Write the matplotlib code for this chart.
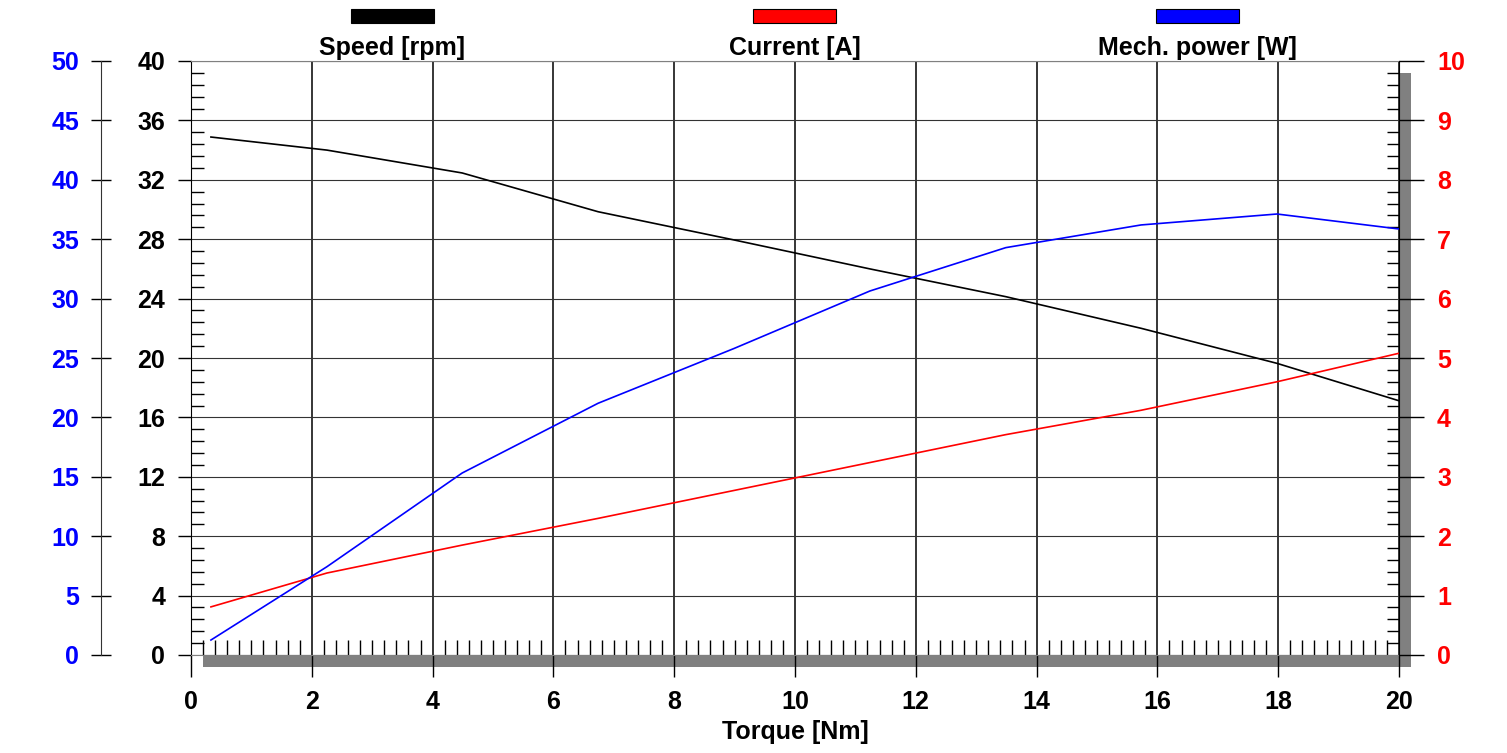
import matplotlib
matplotlib.use('Agg')
import matplotlib.pyplot as plt
import matplotlib.patches as mpatches
from matplotlib.ticker import MultipleLocator
import numpy as np

plt.rcParams['font.family'] = ['Liberation Sans', 'DejaVu Sans']
plt.rcParams['font.weight'] = 'bold'
plt.rcParams['font.size'] = 18

# ── data ─────────────────────────────────────────────────────
TORQUE  = [0.33, 2.25, 4.49, 6.74, 8.99, 11.24, 13.49, 15.73, 17.98, 20.0]
SPEED   = [34.88, 34.0, 32.46, 29.85, 27.95, 26.0, 24.13, 22.0, 19.64, 17.12]
CURRENT = [0.81, 1.38, 1.85, 2.30, 2.77, 3.24, 3.71, 4.12, 4.60, 5.08]
POWER   = [1.26, 7.43, 15.32, 21.19, 25.8, 30.64, 34.29, 36.2, 37.12, 35.86]

LEGEND = [("Speed [rpm]", 'black'), ("Current [A]", '#ff0000'),
          ("Mech. power [W]", '#0000ff')]

W, H, DPI = 1507, 753, 100
PT = 72 / DPI   # points per pixel

fig = plt.figure(figsize=(W / DPI, H / DPI), dpi=DPI)
L, R, B, T = 191, 1399, 655, 61
ax = fig.add_axes([L / W, 1 - B / H, (R - L) / W, (B - T) / H])

# drop shadow behind the frame
shadow = mpatches.Rectangle(((L + 12) / W, 1 - (B + 12) / H), (R - L) / W, (B - T) / H,
                            transform=fig.transFigure, facecolor='#808080',
                            edgecolor='none', zorder=-1)
fig.add_artist(shadow)

# ── primary axis: speed ──────────────────────────────────────
ax.plot(TORQUE, SPEED, color='black', lw=1.2, zorder=3)
ax.set_xlim(0, 20)
ax.set_ylim(0, 40)
ax.xaxis.set_major_locator(MultipleLocator(2))
ax.xaxis.set_minor_locator(MultipleLocator(0.2))
ax.yaxis.set_major_locator(MultipleLocator(4))
ax.yaxis.set_minor_locator(MultipleLocator(0.8))
ax.grid(True, which='major', axis='x', color='black', lw=1.1)
ax.grid(True, which='major', axis='y', color='#333333', lw=0.8)
ax.tick_params(axis='x', which='major', direction='out', length=22 * PT, width=1,
               pad=13 * PT, labelsize=18)
ax.tick_params(axis='x', which='minor', direction='in', length=15 * PT, width=1)
ax.tick_params(axis='y', which='major', direction='out', length=13 * PT, width=1,
               pad=13 * PT, labelsize=18)
ax.tick_params(axis='y', which='minor', direction='in', length=13 * PT, width=1)
ax.tick_params(top=False, right=False, which='both')
for s in ('top', 'bottom'):
    ax.spines[s].set_color('#808080')
ax.spines['right'].set_visible(False)
ax.set_xlabel("Torque [Nm]", fontsize=18, fontweight='bold', labelpad=4)

# ── red axis: current ────────────────────────────────────────
ax2 = ax.twinx()
ax2.plot(TORQUE, CURRENT, color='#ff0000', lw=1.2, zorder=3)
ax2.set_ylim(0, 10)
ax2.yaxis.set_major_locator(MultipleLocator(1))
ax2.yaxis.set_minor_locator(MultipleLocator(0.2))
ax2.tick_params(axis='y', which='major', direction='out', length=25 * PT, width=1,
                pad=13 * PT, labelsize=18, labelcolor='#ff0000')
ax2.tick_params(axis='y', which='minor', direction='in', length=12 * PT, width=1)
for s in ('top', 'bottom', 'left'):
    ax2.spines[s].set_visible(False)

# ── blue axis: mechanical power ──────────────────────────────
ax3 = ax.twinx()
ax3.plot(TORQUE, POWER, color='#0000ff', lw=1.2, zorder=3)
ax3.set_ylim(0, 50)
ax3.yaxis.set_major_locator(MultipleLocator(5))
ax3.yaxis.set_ticks_position('left')
ax3.yaxis.set_label_position('left')
ax3.spines['left'].set_position(('axes', (101 - L) / (R - L)))
for s in ('top', 'bottom', 'right'):
    ax3.spines[s].set_visible(False)
ax3.spines['left'].set_color('#333333')
ax3.tick_params(axis='y', which='major', direction='inout', length=20 * PT, width=1,
                pad=12 * PT, labelsize=18, labelcolor='#0000ff')

# ── top legend: colour bars with captions ────────────────────
for i, (label, color) in enumerate(LEGEND):
    cx = (L + (R - L) * (2 * i + 1) / 6) / W
    bw = 83 / W
    fig.add_artist(mpatches.Rectangle((cx - bw / 2, 1 - 23 / H), bw, 14 / H,
                                      transform=fig.transFigure, facecolor=color,
                                      edgecolor='black', lw=0.8))
    fig.text(cx, 1 - 55 / H, label, ha='center', va='baseline',
             fontsize=18, fontweight='bold')

fig.savefig("out.png", dpi=DPI)
